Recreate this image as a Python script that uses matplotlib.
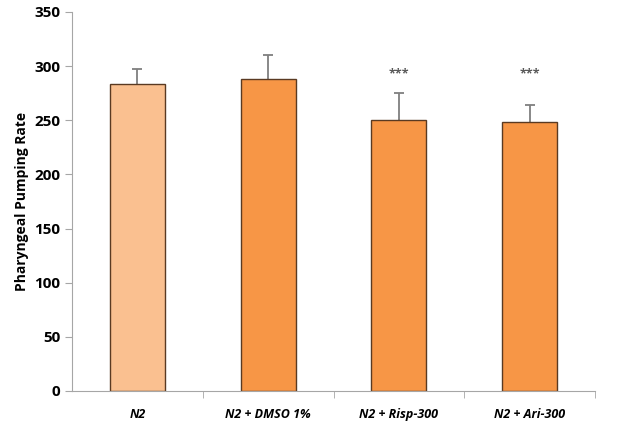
import numpy as np
import matplotlib.pyplot as plt

groups = ['N2', 'N2 + DMSO 1%', 'N2 + Risp-300', 'N2 + Ari-300']
rates = [283, 288, 250, 248]
errors = [14, 22, 25, 16]
signif = ['', '', '***', '***']
colors = ['#FAC090', '#F79646', '#F79646', '#F79646']

plt.rcParams['font.family'] = ['Open Sans', 'DejaVu Sans']

fig = plt.figure(figsize=(6.34, 4.25), dpi=100)
ax = fig.add_axes([0.1136, 0.08, 0.825, 0.892])

x = np.arange(len(groups))
ax.bar(x, rates, width=0.42, color=colors, edgecolor='#5a3a22', linewidth=1.0, zorder=2)
eb = ax.errorbar(x, rates, yerr=[np.zeros(len(errors)), errors], fmt='none',
                 ecolor='#7f7f7f', elinewidth=1.3, capsize=3.5, capthick=1.3, zorder=1)
# only keep the upper caps
for cap in eb[1]:
    if np.allclose(cap.get_ydata(), rates):
        cap.set_visible(False)

for xi, r, e, s in zip(x, rates, errors, signif):
    if s:
        ax.text(xi, 287, s, ha='center', va='bottom', fontsize=9, color='#595959', fontweight='bold')

ax.set_xlim(-0.5, len(groups) - 0.5)
ax.set_ylim(0, 350)
ax.set_yticks(range(0, 351, 50))
ax.set_xticks(x)
ax.set_xticklabels(groups, fontweight='bold', fontstyle='italic', fontsize=9)
ax.set_xticks(np.arange(0.5, len(groups) - 0.4, 1), minor=True)
ax.tick_params(axis='x', which='major', length=0, pad=12)
ax.tick_params(axis='x', which='minor', length=5, color='#a6a6a6')
ax.tick_params(axis='y', length=5, color='#a6a6a6', labelsize=11)
for lbl in ax.get_yticklabels():
    lbl.set_fontweight('bold')

ax.set_ylabel('Pharyngeal Pumping Rate', fontweight='bold', fontsize=10)

for side in ['top', 'right']:
    ax.spines[side].set_visible(False)
for side in ['left', 'bottom']:
    ax.spines[side].set_color('#a6a6a6')

fig.savefig('out.png', dpi=100)
